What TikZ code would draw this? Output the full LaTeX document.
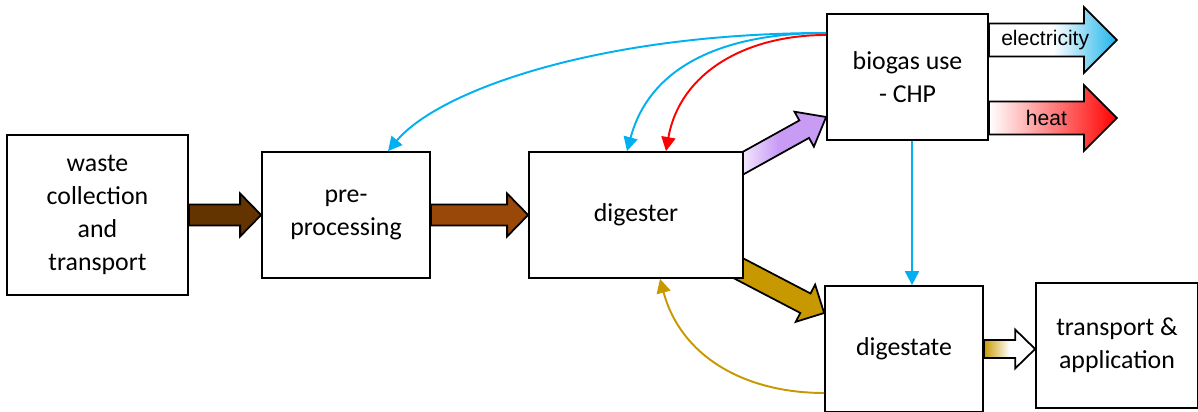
\documentclass[tikz,border=0pt]{standalone}
\usepackage{fontspec}
\setmainfont{Carlito}
\newfontfamily\arrowfont{Liberation Sans}
\usetikzlibrary{arrows.meta,calc,backgrounds}

\definecolor{feedblue}{RGB}{0,176,240}
\definecolor{feedred}{RGB}{255,0,0}
\definecolor{feedgold}{RGB}{200,152,0}
\definecolor{wastebrown}{RGB}{99,51,0}
\definecolor{prebrown}{RGB}{153,72,10}
\definecolor{gaspurple}{RGB}{200,155,245}
\definecolor{elecblue}{RGB}{30,180,235}

\tikzset{fat/.style={draw=black,line width=1pt,line join=miter}}

% block arrow: style, from, to, half shaft, half head, head length
\newcommand{\fatarrow}[6]{%
  \path[fat,#1] let \p1=($(#3)-(#2)$), \n1={atan2(\y1,\x1)}, \n2={veclen(\x1,\y1)} in
    ($(#2)+(\n1+90:#4)$) -- ($(#2)+(\n1:{\n2-#6})+(\n1+90:#4)$)
    -- ($(#2)+(\n1:{\n2-#6})+(\n1+90:#5)$) -- (#3)
    -- ($(#2)+(\n1:{\n2-#6})+(\n1-90:#5)$) -- ($(#2)+(\n1:{\n2-#6})+(\n1-90:#4)$)
    -- ($(#2)+(\n1-90:#4)$) -- cycle;}

\begin{document}
\begin{tikzpicture}
          \useasboundingbox (0,0) rectangle (23.96,-8.24);
          \tikzstyle{every node} = [draw, rectangle, fill=white, line width=1pt, align=center, inner sep=2pt, font=\fontsize{14.7}{18.7}\selectfont];
          \node[minimum width=3.62cm, minimum height=3.2cm](waste) at (1.95,-4.3) {waste\\collection\\and\\transport};
          \node[minimum width=3.36cm, minimum height=2.52cm](pre) at (6.92,-4.3) {pre-\\processing};
          \node[minimum width=4.28cm, minimum height=2.52cm](digester) at (12.72,-4.3) {digester};
          \node[minimum width=3.22cm, minimum height=2.52cm](biogas) at (18.15,-1.54) {biogas use\\- CHP};
          \node[minimum width=3.16cm, minimum height=2.52cm](digestate) at (18.08,-6.98) {digestate};
          \node[minimum width=3.24cm, minimum height=2.5cm](transport) at (22.34,-6.91) {transport \&\\application};
          \tikzstyle{every node} = []
          \coordinate (gasstart) at ($(digester.north east)+(-0.16,-0.32)$);
          \coordinate (gasend) at ($(biogas.west)+(0,-0.8)$);
          \coordinate (dgstart) at ($(digester.south east)+(-0.2,0.26)$);
          \coordinate (dgend) at ($(digestate.west)+(0,0.72)$);
          \coordinate (appin) at (digestate.east -| transport.west);
          \coordinate (elecbase) at ($(biogas.east)+(0,0.74)$);
          \coordinate (electip) at ($(biogas.east)+(2.56,0.74)$);
          \coordinate (heatbase) at ($(biogas.east)+(0,-0.82)$);
          \coordinate (heattip) at ($(biogas.east)+(2.56,-0.82)$);
          \begin{scope}[on background layer]
          \fatarrow{fill=wastebrown}{waste.east}{pre.west}{0.21cm}{0.43cm}{0.42cm}
          \fatarrow{fill=prebrown}{pre.east}{digester.west}{0.21cm}{0.43cm}{0.42cm}
          \fatarrow{left color=white, right color=gaspurple, middle color=gaspurple}{gasstart}{gasend}{0.2cm}{0.4cm}{0.5cm}
          \fatarrow{fill=feedgold}{dgstart}{dgend}{0.22cm}{0.42cm}{0.42cm}
          \fatarrow{left color=feedgold, right color=white, middle color=white}{digestate.east}{appin}{0.18cm}{0.39cm}{0.4cm}
          \fatarrow{left color=white, right color=elecblue, middle color=white}{elecbase}{electip}{0.33cm}{0.66cm}{0.66cm}
          \fatarrow{left color=white, right color=feedred}{heatbase}{heattip}{0.33cm}{0.66cm}{0.66cm}
          \end{scope}
          \node[font=\arrowfont\fontsize{12}{14}\selectfont](eleclabel) at ($(elecbase)!0.44!(electip)$) {electricity};
          \node[font=\arrowfont\fontsize{12}{14}\selectfont](heatlabel) at ($(heatbase)!0.45!(heattip)$) {heat};
          % feedback lines
          \tikzstyle{feed} = [line width=1.1pt, -{Triangle[length=8pt,width=8pt]}]
          \coordinate (bgout) at ($(biogas.west)+(0,0.88)$);
          \coordinate (bgred) at ($(biogas.west)+(0,0.84)$);
          \coordinate (prein) at ($(pre.north)+(0.84,0)$);
          \coordinate (digin) at ($(digester.north)+(-0.18,0)$);
          \coordinate (digred) at ($(digester.north)+(0.6,0)$);
          \coordinate (gasdown) at ($(biogas.south)+(0.09,0)$);
          \coordinate (dsin) at (gasdown |- digestate.north);
          \coordinate (dsout) at ($(digestate.west)+(0,-0.88)$);
          \coordinate (digback) at ($(digester.south)+(0.48,0)$);
          \path
          (bgout) edge[feed, feedblue, out=180, in=50, out distance=4.5cm, in distance=1.6cm] (prein);
          \path
          (bgout) edge[feed, feedblue, out=180, in=75, out distance=2cm, in distance=1.8cm] (digin);
          \path
          (bgred) edge[feed, feedred, out=180, in=80, out distance=1.6cm, in distance=1.6cm] (digred);
          \path
          (gasdown) edge[feed, feedblue] (dsin);
          \path
          (dsout) edge[feed, feedgold, out=180, in=-75, out distance=1.6cm, in distance=1.6cm] (digback);
\end{tikzpicture}
\end{document}
